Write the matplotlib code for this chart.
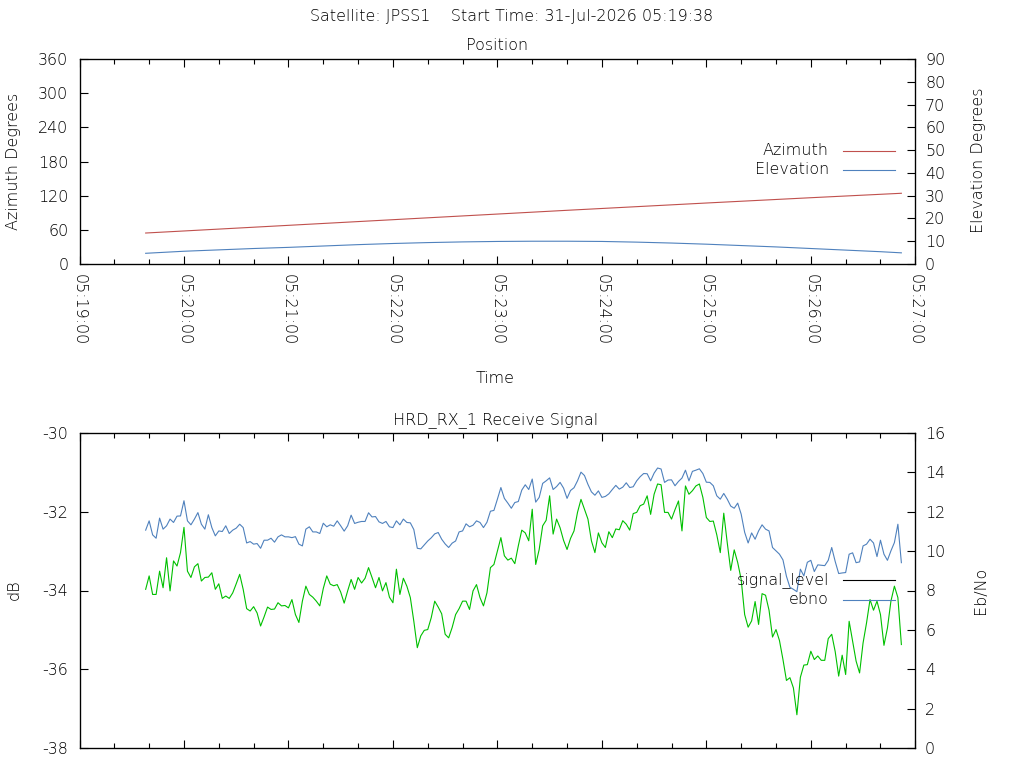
import numpy as np
import pandas as pd
import matplotlib
matplotlib.use("Agg")
import matplotlib.pyplot as plt
import matplotlib.dates as mdates
from matplotlib.lines import Line2D

plt.rcParams["font.family"] = ["DejaVu Sans"]
plt.rcParams["font.size"] = 11.5
plt.rcParams["font.weight"] = "light"
plt.rcParams["axes.unicode_minus"] = False

# ── data ──────────────────────────────────────────────────────────────
day = "2026-07-31"
pass_start = pd.Timestamp(f"{day} 05:19:38")

# position track (20 s samples, last one at 05:26:52)
pos_time = pd.to_datetime([f"{day} {t}" for t in [
    "05:19:38", "05:20:00", "05:20:20", "05:20:40", "05:21:00", "05:21:20",
    "05:21:40", "05:22:00", "05:22:20", "05:22:40", "05:23:00", "05:23:20",
    "05:23:40", "05:24:00", "05:24:20", "05:24:40", "05:25:00", "05:25:20",
    "05:25:40", "05:26:00", "05:26:20", "05:26:40", "05:26:52"]])
azimuth = [54.4, 58.0, 61.3, 64.6, 67.9, 71.2, 74.5, 77.8, 81.1, 84.4, 87.7,
           91.0, 94.3, 97.5, 100.7, 103.9, 107.1, 110.2, 113.3, 116.4, 119.4,
           122.4, 124.2]
elevation = [4.7, 5.6, 6.2, 6.8, 7.3, 7.9, 8.5, 9.0, 9.4, 9.7, 9.9, 10.0,
             10.0, 9.9, 9.6, 9.2, 8.7, 8.1, 7.5, 6.8, 6.1, 5.4, 4.9]

# receiver log, one reading every 2 s from 05:19:38
ebno = [
    11.06, 11.53, 10.82, 10.65, 11.67, 11.11, 11.28, 11.62, 11.45, 11.77,
    11.78, 12.55, 11.53, 11.33, 11.62, 11.95, 11.36, 11.11, 11.84, 11.19,
    10.77, 11.02, 10.99, 11.28, 10.89, 11.06, 11.16, 11.36, 11.19, 10.41,
    10.48, 10.35, 10.38, 10.14, 10.55, 10.55, 10.65, 10.45, 10.72, 10.82,
    10.72, 10.72, 10.68, 10.73, 10.35, 10.26, 11.11, 11.23, 10.97, 10.97,
    10.89, 11.41, 11.23, 11.33, 11.26, 11.53, 11.28, 11.01, 11.28, 11.82,
    11.40, 11.46, 11.50, 11.50, 11.94, 11.73, 11.75, 11.48,
    11.40, 11.50, 11.23, 11.19, 11.53, 11.33, 11.62, 11.45, 11.43, 11.09,
    10.14, 10.11, 10.31, 10.51, 10.67, 10.87, 10.94, 10.60, 10.36, 10.18,
    10.40, 10.51, 10.97, 11.02, 11.38, 11.23, 11.31, 11.53, 11.45, 11.19,
    11.46, 12.02, 12.06, 12.63, 13.22, 12.67, 12.43, 12.17, 12.46, 12.51,
    13.09, 13.36, 13.12, 13.65, 12.48, 12.72, 13.43, 13.56, 13.71, 13.12,
    13.27, 13.48, 13.19, 12.67, 13.07, 13.21, 13.56, 14.00, 13.83, 13.38,
    13.00, 12.83, 13.05, 12.72, 12.77, 12.90, 13.12, 13.33, 13.14, 13.24,
    13.46, 13.22, 13.26, 13.56, 13.77, 13.93, 13.92,
    13.56, 13.95, 14.21, 14.16, 13.48, 13.60, 13.61, 13.31, 13.53, 13.70,
    14.10, 13.56, 14.04, 14.10, 14.17, 13.93, 13.49, 13.48, 13.31, 12.80,
    12.63, 12.92, 12.63, 12.28, 12.17, 12.43, 11.87, 10.95, 10.41, 10.92,
    10.60, 11.02, 11.33, 11.11, 11.02, 10.18, 10.01, 9.84, 9.55, 8.72,
    8.16, 8.06, 7.94, 9.08, 8.74, 9.43, 9.53, 8.96, 9.30, 9.28,
    9.26, 9.53, 10.18, 9.47, 8.86, 8.89, 8.91, 9.84, 9.91, 9.41,
    9.45, 10.26, 10.35, 10.60, 10.41, 9.72, 10.55, 9.84, 9.53, 10.01,
    10.43, 11.36, 9.41]

signal_level = [
    -33.97, -33.63, -34.10, -34.10, -33.51, -33.93, -33.17, -34.01, -33.25, -33.38,
    -33.04, -32.40, -33.51, -33.67, -33.40, -33.32, -33.76, -33.67, -33.66, -33.55,
    -33.97, -33.83, -34.20, -34.14, -34.20, -34.06, -33.83, -33.59, -33.97, -34.46,
    -34.52, -34.41, -34.57, -34.90, -34.67, -34.42, -34.48, -34.47, -34.31, -34.39,
    -34.38, -34.44, -34.23, -34.61, -34.81, -34.27, -33.89, -34.10, -34.17, -34.27,
    -34.39, -33.95, -33.63, -33.84, -33.88, -33.85, -34.04, -34.32, -34.01, -33.72,
    -33.97, -33.67, -33.81, -33.69, -33.42, -33.67, -33.93, -33.67,
    -34.01, -33.80, -34.17, -34.31, -33.46, -34.10, -33.69, -33.89, -34.18, -34.78,
    -35.45, -35.15, -35.01, -34.99, -34.69, -34.27, -34.42, -34.59, -35.11, -35.20,
    -34.94, -34.61, -34.46, -34.27, -34.27, -34.48, -34.01, -33.85, -34.18, -34.39,
    -34.06, -33.42, -33.34, -33.00, -32.66, -33.12, -33.23, -33.18, -33.32, -32.87,
    -32.47, -32.54, -32.74, -31.94, -33.34, -32.96, -32.36, -32.22, -31.60, -32.57,
    -32.19, -32.41, -32.73, -32.96, -32.68, -32.49, -32.02, -31.69, -31.94, -32.19,
    -32.74, -33.04, -32.54, -32.79, -32.91, -32.51, -32.66, -32.44, -32.46, -32.23,
    -32.32, -32.47, -32.05, -32.02, -31.85, -31.81, -31.60,
    -32.07, -31.56, -31.30, -31.32, -32.02, -32.02, -32.19, -31.95, -31.73, -32.49,
    -31.35, -31.56, -31.47, -31.35, -31.30, -31.64, -32.15, -32.25, -32.24, -32.59,
    -33.04, -32.04, -32.79, -33.49, -32.97, -33.29, -33.72, -34.61, -34.93, -34.77,
    -34.28, -34.86, -34.08, -34.12, -34.50, -35.18, -34.99, -35.27, -35.75, -36.28,
    -36.21, -36.47, -37.15, -36.20, -35.89, -35.88, -35.54, -35.75, -35.66, -35.77,
    -35.77, -35.22, -35.11, -35.55, -36.17, -35.64, -36.13, -34.78, -35.28, -35.79,
    -36.09, -35.33, -34.82, -34.23, -34.50, -34.27, -34.61, -35.39, -34.95, -34.27,
    -33.89, -34.18, -35.37]

rx_time = pass_start + pd.to_timedelta(2 * np.arange(len(signal_level)), unit="s")
ebno_time = pass_start + pd.to_timedelta(2 * np.arange(len(ebno)), unit="s")

RED, BLUE, GREEN = "#c0504d", "#4f81bd", "#00c000"
W, H = 1024, 768
t0, t1 = pd.Timestamp(f"{day} 05:19:00"), pd.Timestamp(f"{day} 05:27:00")


def fx(px):
    return px / W


def fy(py):
    return 1 - py / H


def style_time_axis(ax, labels=True):
    ax.set_xlim(t0, t1)
    ax.xaxis.set_major_locator(mdates.MinuteLocator())
    ax.xaxis.set_minor_locator(mdates.SecondLocator(bysecond=[20, 40]))
    ax.xaxis.set_major_formatter(mdates.DateFormatter("%H:%M:%S"))
    ax.tick_params(axis="x", which="both", direction="in", top=True,
                   labelbottom=labels)
    ax.tick_params(axis="x", which="major", length=6, width=0.8,
                   labelrotation=-90, pad=7)
    ax.tick_params(axis="x", which="minor", length=3.5, width=0.8)
    ax.tick_params(axis="y", which="major", direction="in", length=6,
                   width=0.8, pad=8)
    for s in ax.spines.values():
        s.set_linewidth(0.9)


def key(entries, top_py):
    for i, (label, col) in enumerate(entries):
        py = top_py + 19.5 * i
        fig.text(fx(829), fy(py), label, ha="right", va="center")
        fig.add_artist(Line2D([fx(843), fx(895)], [fy(py), fy(py)],
                              color=col, lw=0.8, transform=fig.transFigure))


fig = plt.figure(figsize=(W / 100, H / 100), dpi=100)

# ── position panel ────────────────────────────────────────────────────
ax1 = fig.add_axes([fx(79.5), fy(264), fx(915.3 - 79.5), (264 - 59) / H])
ax1.plot(pos_time, azimuth, color=RED, lw=0.8)
ax1.set_ylim(0, 360)
ax1.set_yticks(range(0, 361, 60))
style_time_axis(ax1)
ax1b = ax1.twinx()
ax1b.plot(pos_time, elevation, color=BLUE, lw=0.8)
ax1b.set_ylim(0, 90)
ax1b.set_yticks(range(0, 91, 10))
ax1b.tick_params(axis="y", direction="in", length=6, width=0.8, pad=7)
for lab in ax1.get_xticklabels():
    lab.set_ha("center")

# ── receive signal panel ──────────────────────────────────────────────
ax2 = fig.add_axes([fx(79.5), fy(748.3), fx(915.3 - 79.5), (748.3 - 432.7) / H])
ax2.plot(rx_time, signal_level, color=GREEN, lw=0.8)
ax2.set_ylim(-38, -30)
ax2.set_yticks(range(-38, -29, 2))
style_time_axis(ax2, labels=False)
ax2b = ax2.twinx()
ax2b.plot(ebno_time, ebno, color=BLUE, lw=0.8)
ax2b.set_ylim(0, 16)
ax2b.set_yticks(range(0, 17, 2))
ax2b.tick_params(axis="y", direction="in", length=6, width=0.8, pad=7)

# ── labels, titles, keys ──────────────────────────────────────────────
fig.text(0.5, fy(17), "Satellite: JPSS1    Start Time: 31-Jul-2026 05:19:38",
         ha="center", va="center")
fig.text(fx(497), fy(46), "Position", ha="center", va="center")
fig.text(fx(496), fy(420), "HRD_RX_1 Receive Signal", ha="center", va="center")
fig.text(fx(495), fy(379), "Time", ha="center", va="center")
fig.text(fx(14), fy(161), "Azimuth Degrees", rotation=90, ha="center", va="center")
fig.text(fx(978), fy(160), "Elevation Degrees", rotation=90, ha="center", va="center")
fig.text(fx(14), fy(590), "dB", rotation=90, ha="center", va="center")
fig.text(fx(980), fy(590), "Eb/No", rotation=90, ha="center", va="center")

key([("Azimuth", RED), ("Elevation", BLUE)], 150.5)
key([("signal_level", "black"), ("ebno", BLUE)], 580)

fig.savefig("out.png", dpi=100)
